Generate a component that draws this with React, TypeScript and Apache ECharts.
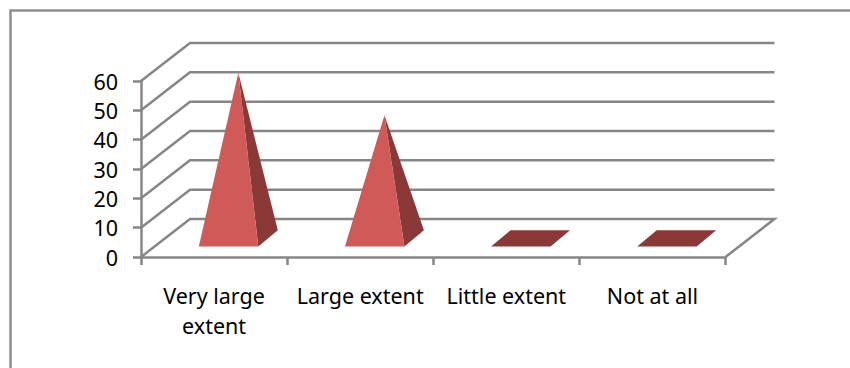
import React, { useEffect, useRef } from "react";
import * as echarts from "echarts";

const categories = ["Very large\nextent", "Large extent", "Little extent", "Not at all"];
const values = [56.5, 42, 0, 0];
const yTicks = [0, 10, 20, 30, 40, 50, 60];

const AXIS_GREY = "#868686";
const FACE_FRONT = "#d05a57";
const FACE_SIDE = "#8a3937";
const FONT = "'Noto Sans', 'Open Sans', sans-serif";
const LINE_WIDTH = 2.5;

// Oblique projection of the chart's depth axis, in pixels
const WALL_DX = 49;
const WALL_DY = 38;
const FRONT = { dx: 14.5, dy: 10.4 };
const MIDDLE = { dx: 24.25, dy: 18.5 };
const BACK = { dx: 34, dy: 26.8 };
const BAR_HALF_WIDTH = 0.2035; // share of a category band

// Gridline for one tick: up the side wall, then along the back wall
function renderWall(_: any, api: any) {
  const band = api.size([1, 0])[0];
  const [cx, y] = api.coord([0, api.value(1)]);
  const left = cx - band / 2;
  const right = left + band * categories.length;
  const points = [
    [left, y],
    [left + WALL_DX, y - WALL_DY],
    [right + WALL_DX, y - WALL_DY],
  ];
  if (api.value(1) === 0) points.push([right, y]);
  return {
    type: "polyline",
    shape: { points },
    style: { stroke: AXIS_GREY, fill: "none", lineWidth: LINE_WIDTH },
  };
}

// Four-sided pyramid seen from the front right; a zero value leaves only its flat base
function renderPyramid(_: any, api: any) {
  const band = api.size([1, 0])[0];
  const half = band * BAR_HALF_WIDTH;
  const [cx, zeroY] = api.coord([api.value(0), 0]);
  const [, topY] = api.coord([api.value(0), api.value(1)]);
  const fl = [cx + FRONT.dx - half, zeroY - FRONT.dy];
  const fr = [cx + FRONT.dx + half, zeroY - FRONT.dy];
  const br = [cx + BACK.dx + half, zeroY - BACK.dy];
  const bl = [cx + BACK.dx - half, zeroY - BACK.dy];
  if (api.value(1) === 0) {
    return {
      type: "polygon",
      shape: { points: [fl, fr, br, bl] },
      style: { fill: FACE_SIDE },
    };
  }
  const apex = [cx + MIDDLE.dx, topY - MIDDLE.dy];
  return {
    type: "group",
    children: [
      { type: "polygon", shape: { points: [fr, br, apex] }, style: { fill: FACE_SIDE } },
      { type: "polygon", shape: { points: [fl, fr, apex] }, style: { fill: FACE_FRONT } },
    ],
  };
}

export default function App() {
  const ref = useRef<HTMLDivElement>(null);

  useEffect(() => {
    const chart = echarts.init(ref.current!, undefined, { renderer: "svg" });
    chart.setOption({
      animation: false,
      backgroundColor: "#ffffff",
      grid: { left: 141, top: 81, width: 584.5, height: 176 },
      xAxis: {
        type: "category",
        data: categories,
        axisLine: { lineStyle: { color: AXIS_GREY, width: LINE_WIDTH } },
        axisTick: { show: true, length: 8, alignWithLabel: false, lineStyle: { color: AXIS_GREY, width: LINE_WIDTH } },
        axisLabel: { interval: 0, margin: 23, fontFamily: FONT, fontSize: 21.5, color: "#000", lineHeight: 30 },
        splitLine: { show: false },
      },
      yAxis: {
        type: "value",
        min: 0,
        max: 60,
        interval: 10,
        axisLine: { show: true, lineStyle: { color: AXIS_GREY, width: LINE_WIDTH } },
        axisTick: { show: true, length: 8, lineStyle: { color: AXIS_GREY, width: LINE_WIDTH } },
        axisLabel: { margin: 23, fontFamily: FONT, fontSize: 21.5, color: "#000" },
        splitLine: { show: false },
      },
      graphic: [
        {
          type: "polyline",
          shape: { points: [[10.5, 368], [10.5, 10.5], [850, 10.5]] },
          style: { stroke: "#8f8f8f", fill: "none", lineWidth: 2.5 },
        },
      ],
      series: [
        {
          type: "custom",
          name: "walls",
          renderItem: renderWall,
          data: yTicks.map((t) => [0, t]),
          encode: { x: 0, y: 1 },
          silent: true,
          z: 1,
        },
        {
          type: "custom",
          name: "extent",
          renderItem: renderPyramid,
          data: values.map((v, i) => [i, v]),
          encode: { x: 0, y: 1 },
          z: 3,
        },
      ],
    });
    return () => chart.dispose();
  }, []);

  return <div ref={ref} style={{ position: "fixed", left: 0, top: 0, width: 850, height: 368 }} />;
}
